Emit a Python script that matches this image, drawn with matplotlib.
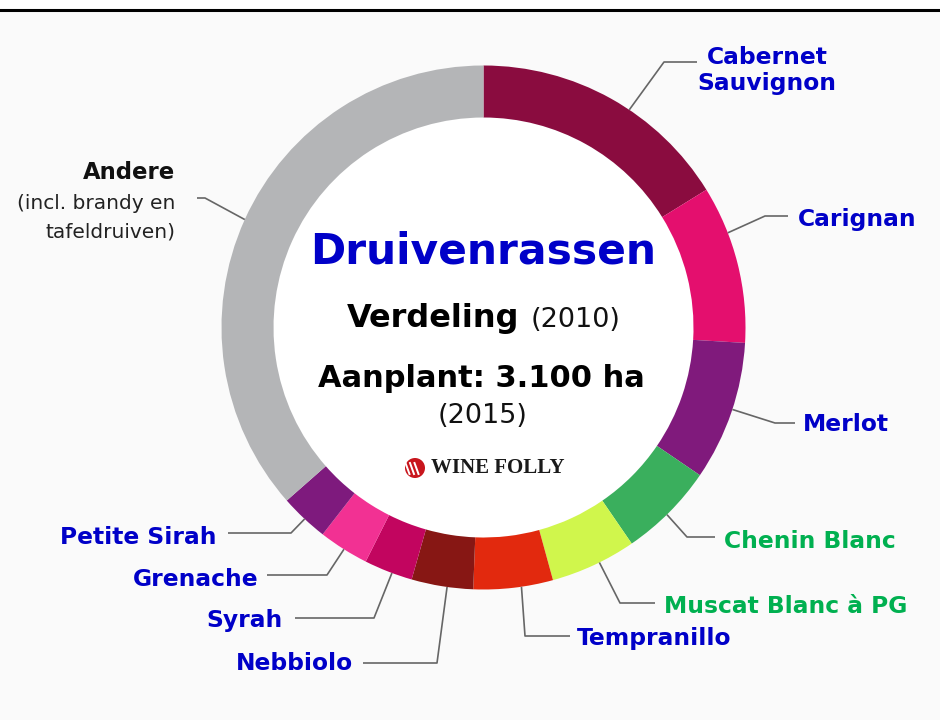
import numpy as np
import matplotlib.pyplot as plt
from matplotlib.patches import Circle, Rectangle

# grape varieties, share of the planted area (%)
grapes = ["Cabernet\nSauvignon", "Carignan", "Merlot", "Chenin Blanc",
          "Muscat Blanc à PG", "Tempranillo", "Nebbiolo", "Syrah",
          "Grenache", "Petite Sirah", "Andere"]
shares = [16.2, 9.75, 8.6, 5.9, 5.3, 4.9, 3.8, 3.0, 3.1, 3.0, 36.5]
colors = ["#8A0C3F", "#E40F6E", "#801A7C", "#3AAF5D", "#D0F64C", "#E2290E",
          "#871714", "#C2055F", "#F23193", "#7E1A7D", "#B4B5B7"]

BLUE = "#0000C8"
GREEN = "#00B050"
label_colors = [BLUE, BLUE, BLUE, GREEN, GREEN, BLUE, BLUE, BLUE, BLUE, BLUE, "#111111"]

# where along each wedge the leader line touches the ring (0 = start, 1 = end)
anchor_frac = [0.58, 0.3, 0.48, 0.53, 0.43, 0.4, 0.42, 0.42, 0.49, 0.48, 0.5]
# leader line elbow / end points and label anchor (pixel coordinates, y down)
elbows = [(664, 62), (765, 216), (775, 423), (687, 537), (620, 603), (525, 636),
          (437, 663), (374, 618), (327, 575), (291, 533), (205, 198)]
ends = [(697, 62), (788, 216), (795, 423), (715, 537), (655, 603), (570, 636),
        (363, 663), (295, 618), (267, 575), (228, 533), (197, 198)]
text_pos = [(767, 90), (798, 226), (803, 431), (724, 548), (664, 613), (577, 645),
            (353, 670), (283, 627), (258, 586), (216, 544), (175, 179)]
text_ha = ["center", "left", "left", "left", "left", "left",
           "right", "right", "right", "right", "right"]

cx, cy = 483.5, 327.5
r_out, ring = 262, 52

fig = plt.figure(figsize=(9.4, 7.2), dpi=100, facecolor="#fafafa")
ax = fig.add_axes([0, 0, 1, 1])
ax.axis("off")

# top strip
ax.add_patch(Rectangle((0, 0), 940, 8.5, facecolor="white", edgecolor="none"))
ax.axhline(10, color="black", lw=2.2)

ax.add_patch(Circle((cx, cy), r_out - ring, facecolor="white", edgecolor="none"))
wedges, _ = ax.pie(shares, colors=colors, startangle=270, counterclock=True,
                   center=(cx, cy), radius=r_out,
                   wedgeprops=dict(width=ring, edgecolor="none"))
ax.set_xlim(0, 940)
ax.set_ylim(720, 0)
ax.set_aspect("equal")

for i, w in enumerate(wedges):
    a = np.deg2rad(w.theta1 + anchor_frac[i] * (w.theta2 - w.theta1))
    x0 = cx + r_out * np.cos(a)
    y0 = cy + r_out * np.sin(a)
    ax.plot([x0, elbows[i][0], ends[i][0]], [y0, elbows[i][1], ends[i][1]],
            color="#666666", lw=1.2, solid_capstyle="butt")
    tx, ty = text_pos[i]
    if grapes[i] == "Andere":
        ax.text(tx, ty, "Andere", ha="right", va="baseline", fontsize=16.4,
                fontweight="bold", color="#111111")
        ax.text(tx, ty + 30, "(incl. brandy en", ha="right", va="baseline",
                fontsize=14.5, color="#222222")
        ax.text(tx, ty + 59, "tafeldruiven)", ha="right", va="baseline",
                fontsize=14.5, color="#222222")
    else:
        ax.text(tx, ty, grapes[i], ha=text_ha[i], va="baseline", fontsize=16.8,
                fontweight="bold", color=label_colors[i], linespacing=1.15,
                multialignment="center")

# centre titles
ax.text(483.5, 263, "Druivenrassen", ha="center", va="baseline", fontsize=30.5,
        fontweight="bold", color=BLUE)
ax.text(519, 327, "Verdeling", ha="right", va="baseline", fontsize=23,
        fontweight="bold", color="black")
ax.text(531, 327, "(2010)", ha="left", va="baseline", fontsize=19.5, color="#111111")
ax.text(481.5, 387, "Aanplant: 3.100 ha", ha="center", va="baseline", fontsize=22,
        fontweight="bold", color="black")
ax.text(482.5, 423, "(2015)", ha="center", va="baseline", fontsize=19.5, color="#111111")

# Wine Folly logo
ax.add_patch(Circle((415, 468), 10, facecolor="#C8161D", edgecolor="none"))
for dx in (-4.5, 0, 4.5):
    ax.plot([410 + dx, 414 + dx], [463, 474], color="white", lw=1.4)
ax.text(431, 468, "WINE FOLLY", ha="left", va="center", fontsize=15,
        fontweight="bold", family="Liberation Serif", color="#1a1a1a")

fig.savefig("out.png", dpi=100, facecolor=fig.get_facecolor())
